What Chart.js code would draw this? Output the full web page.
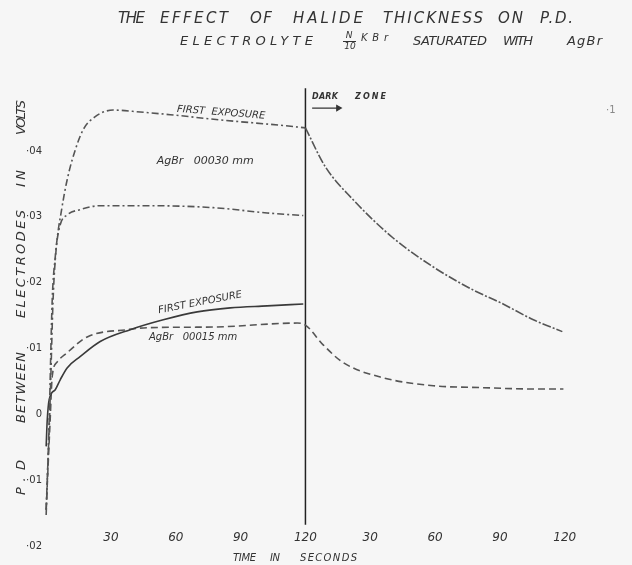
<!DOCTYPE html>
<html>
<head>
<meta charset="utf-8">
<script src="https://cdn.jsdelivr.net/npm/chart.js@4.4.1/dist/chart.umd.min.js"></script>
<style>
  html, body { margin: 0; padding: 0; background: #f6f6f6; }
  canvas { display: block; }
</style>
</head>
<body>
<canvas id="c" width="632" height="565"></canvas>
<script>
// ---- data (time in seconds; dark zone continues from 120 on the same axis) ----
const xTickValues = [30, 60, 90, 120, 150, 180, 210, 240];
const xTickLabels = ['30', '60', '90', '120', '30', '60', '90', '120'];
const yTickValues = [-0.02, -0.01, 0, 0.01, 0.02, 0.03, 0.04];
const yTickLabels = ['·02', '·01', '0', '·01', '·02', '·03', '·04'];

// AgBr 0.00030 mm, first exposure (light period)
const thickFirstT = [0, 1.4, 2.8, 4.2, 5.6, 6.9, 8.3, 9.7, 12, 17.1, 22.7, 31, 43.5, 57.4, 80.6, 108.3, 120];
const thickFirstV = [-0.0152, -0.0008, 0.0174, 0.0239, 0.028, 0.0306, 0.0333, 0.0356, 0.0386, 0.0432, 0.0452, 0.0462, 0.0459, 0.0455, 0.0447, 0.0439, 0.0435];
// AgBr 0.00030 mm, first exposure (dark zone)
const thickDarkT = [120, 129.2, 142.1, 160.6, 179.2, 197.7, 210.2, 225.5, 238.9];
const thickDarkV = [0.0435, 0.0376, 0.0326, 0.0268, 0.0224, 0.0189, 0.017, 0.0144, 0.0126];
// AgBr 0.00030 mm, second curve
const thickSecondT = [0, 1.85, 3.2, 4.6, 6.5, 9.7, 15.7, 25, 46.8, 77.3, 102.3, 119];
const thickSecondV = [-0.0144, 0.0023, 0.0174, 0.025, 0.0288, 0.0303, 0.0311, 0.0317, 0.0317, 0.0314, 0.0306, 0.0302];
// AgBr 0.00015 mm, first exposure (solid)
const thinFirstT = [0, 0.5, 1.4, 4.2, 6.5, 9.7, 15.7, 25, 38.9, 54.2, 69.9, 85.2, 102.3, 119];
const thinFirstV = [-0.0048, -0.0008, 0.0023, 0.0038, 0.0053, 0.0071, 0.0088, 0.0111, 0.0129, 0.0144, 0.0156, 0.0162, 0.0165, 0.0168];
// AgBr 0.00015 mm, dashed (light + dark zone)
const thinDashT = [0, 1.85, 2.8, 5.1, 9.7, 19, 37.5, 46.8, 77.3, 116.2, 120, 128.2, 137.5, 156, 179.2, 202.3, 225.5, 239.4];
const thinDashV = [-0.0144, -0.0008, 0.0058, 0.008, 0.0094, 0.0118, 0.0129, 0.0132, 0.0133, 0.0139, 0.0136, 0.0106, 0.0079, 0.0056, 0.0044, 0.0041, 0.0039, 0.0039];
// boundary between light and dark zone
const boundaryT = [120, 120];
const boundaryV = [0.0495, -0.0167];
// "dark zone" arrow
const arrowT = [123.1, 135.2];
const arrowV = [0.0465, 0.0465];

const pts = (xs, ys) => xs.map((x, i) => ({ x: x, y: ys[i] }));

// ---- annotations (text anchored in data coordinates) ----
const notes = [
  { text: 'FIRST  EXPOSURE', t: 81, v: 0.0458, size: 10, rot: 4.4 },
  { text: 'AgBr   00030 mm', t: 73.6, v: 0.0385, size: 11, rot: 0 },
  { text: 'FIRST EXPOSURE', t: 71.3, v: 0.0170, size: 10, rot: -11 },
  { text: 'AgBr   00015 mm', t: 68, v: 0.0118, size: 10, rot: 0 },
];

const FONT = '"DejaVu Sans", sans-serif';
const INK = '#333';

function drawWord(ctx, text, x0, x1, y, font) {
  ctx.font = font;
  ctx.letterSpacing = '0px';
  const w = ctx.measureText(text).width;
  const n = text.length;
  const sp = n > 1 ? (x1 - x0 - w) / (n - 1) : 0;
  ctx.letterSpacing = sp + 'px';
  ctx.textAlign = 'left';
  ctx.fillText(text, x0, y);
  ctx.letterSpacing = '0px';
}

const decor = {
  id: 'decor',
  beforeDraw(chart) {
    const ctx = chart.ctx;
    ctx.save();
    ctx.fillStyle = '#f6f6f6';
    ctx.fillRect(0, 0, chart.width, chart.height);
    ctx.restore();
  },
  afterDraw(chart) {
    const ctx = chart.ctx;
    const xs = chart.scales.x, ys = chart.scales.y;
    ctx.save();
    ctx.fillStyle = INK;
    ctx.textBaseline = 'middle';
    // title line 1
    const f1 = 'italic 15px ' + FONT;
    [['THE', 118, 145], ['EFFECT', 160, 228], ['OF', 250, 272], ['HALIDE', 293, 363],
     ['THICKNESS', 383, 483], ['ON', 498, 523], ['P.D.', 540, 573]]
      .forEach(w => drawWord(ctx, w[0], w[1], w[2], 19, f1));
    // title line 2
    const f2 = 'italic 13px ' + FONT;
    [['ELECTROLYTE', 180, 313], ['SATURATED', 413, 487], ['WITH', 503, 533], ['AgBr', 567, 602]]
      .forEach(w => drawWord(ctx, w[0], w[1], w[2], 42, f2));
    drawWord(ctx, 'KBr', 361, 388, 38, 'italic 10px ' + FONT);
    ctx.font = 'italic 9px ' + FONT;
    ctx.textAlign = 'center';
    ctx.fillText('N', 349, 36);
    ctx.fillText('10', 350, 47);
    ctx.strokeStyle = INK; ctx.lineWidth = 1;
    ctx.beginPath(); ctx.moveTo(343, 41.5); ctx.lineTo(356, 41.5); ctx.stroke();

    // y-axis title (rotated)
    ctx.save();
    ctx.translate(22, 495);
    ctx.rotate(-Math.PI / 2);
    const fy = 'italic 13px ' + FONT;
    [['P.D', 0, 35], ['BETWEEN', 72, 143], ['ELECTRODES', 177, 285], ['IN', 308, 325], ['VOLTS', 360, 395]]
      .forEach(w => drawWord(ctx, w[0], w[1], w[2], 0, fy));
    ctx.restore();

    // x-axis title
    const fx = 'italic 10px ' + FONT;
    [['TIME', 233, 256], ['IN', 270, 280], ['SECONDS', 300, 357]]
      .forEach(w => drawWord(ctx, w[0], w[1], w[2], 558, fx));

    // dark zone label
    drawWord(ctx, 'DARK', 312, 338, 97, 'italic bold 8px ' + FONT);
    drawWord(ctx, 'ZONE', 355, 386, 97, 'italic bold 8px ' + FONT);

    // curve notes
    notes.forEach(n => {
      ctx.save();
      ctx.translate(xs.getPixelForValue(n.t), ys.getPixelForValue(n.v));
      ctx.rotate(n.rot * Math.PI / 180);
      ctx.font = 'italic ' + n.size + 'px ' + FONT;
      ctx.textAlign = 'center';
      ctx.fillText(n.text, 0, 0);
      ctx.restore();
    });

    // page mark
    ctx.fillStyle = '#888';
    ctx.font = '10px ' + FONT;
    ctx.textAlign = 'left';
    ctx.fillText('·1', 606, 110);
    ctx.restore();
  }
};

const lineBase = {
  pointRadius: 0,
  fill: false,
  cubicInterpolationMode: 'monotone',
};

new Chart(document.getElementById('c'), {
  type: 'line',
  data: {
    datasets: [
      Object.assign({}, lineBase, { label: 'AgBr .00030 mm first exposure', data: pts(thickFirstT, thickFirstV),
        borderColor: '#555', borderWidth: 1.6, borderDash: [7, 3, 2, 3] }),
      Object.assign({}, lineBase, { label: 'AgBr .00030 mm dark', data: pts(thickDarkT, thickDarkV),
        borderColor: '#555', borderWidth: 1.6, borderDash: [9, 2, 2, 2] }),
      Object.assign({}, lineBase, { label: 'AgBr .00030 mm second', data: pts(thickSecondT, thickSecondV),
        borderColor: '#555', borderWidth: 1.6, borderDash: [7, 3, 2, 3] }),
      Object.assign({}, lineBase, { label: 'AgBr .00015 mm first exposure', data: pts(thinFirstT, thinFirstV),
        borderColor: '#3a3a3a', borderWidth: 1.6 }),
      Object.assign({}, lineBase, { label: 'AgBr .00015 mm', data: pts(thinDashT, thinDashV),
        borderColor: '#555', borderWidth: 1.6, borderDash: [7, 4] }),
      Object.assign({}, lineBase, { label: 'boundary', data: pts(boundaryT, boundaryV),
        borderColor: '#222', borderWidth: 1.5, cubicInterpolationMode: 'default', tension: 0 }),
      { label: 'arrow', data: pts(arrowT, arrowV), borderColor: '#333', borderWidth: 1.2,
        pointRadius: [0, 3], pointStyle: 'triangle', rotation: 90,
        pointBackgroundColor: '#333', pointBorderColor: '#333', tension: 0 },
    ]
  },
  options: {
    responsive: false,
    animation: false,
    layout: { padding: { left: 24, right: 50, top: 85, bottom: 5 } },
    plugins: { legend: { display: false }, tooltip: { enabled: false }, title: { display: false } },
    scales: {
      x: {
        type: 'linear', min: -1, max: 248,
        position: { y: -0.0174 },
        grid: { display: false, drawTicks: false },
        border: { display: false },
        afterBuildTicks: s => { s.ticks = xTickValues.map(v => ({ value: v })); },
        ticks: {
          padding: 1, autoSkip: false, maxRotation: 0, color: INK,
          font: { family: FONT, size: 12, style: 'italic' },
          callback: (v, i) => xTickLabels[i]
        }
      },
      y: {
        type: 'linear', min: -0.022, max: 0.05,
        grid: { display: false, drawTicks: false },
        border: { display: false },
        afterBuildTicks: s => { s.ticks = yTickValues.map(v => ({ value: v })); },
        afterFit: s => { s.width = 20; s.paddingTop = 0; s.paddingBottom = 0; },
        ticks: {
          padding: 2, color: INK,
          font: { family: FONT, size: 10 },
          callback: (v, i) => yTickLabels[i]
        }
      }
    }
  },
  plugins: [decor]
});
</script>
</body>
</html>
